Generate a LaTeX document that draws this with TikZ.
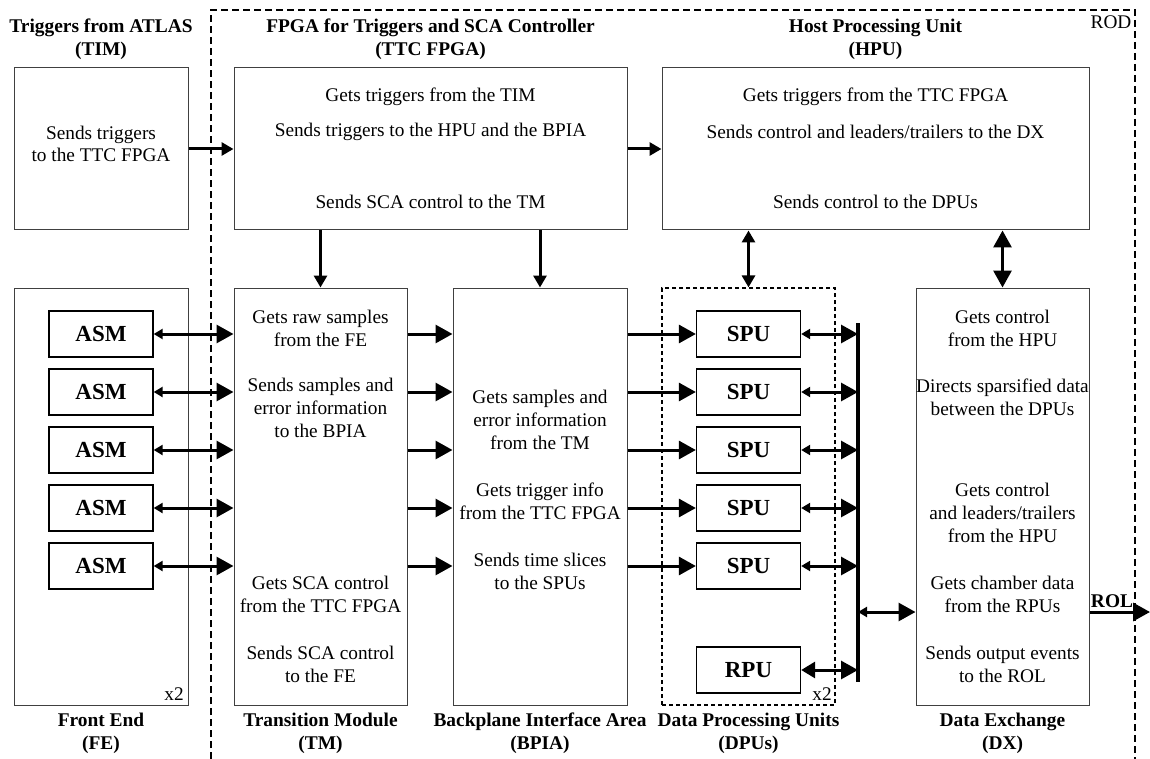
\documentclass[tikz,border=0pt]{standalone}
\usepackage{fontspec}
\setmainfont{Liberation Serif}
\usetikzlibrary{arrows.meta}
\begin{document}
\begin{tikzpicture}[x=1pt,y=-1pt,
  box/.style={draw=black!75,line width=1pt,inner sep=0pt},
  dpubox/.style={draw=black,line width=1.2pt,dash pattern=on 4pt off 3pt,inner sep=0pt},
  unit/.style={draw=black,line width=1.3pt,inner sep=0pt,minimum width=104pt,minimum height=46pt,
    font=\fontsize{23}{27}\selectfont\bfseries},
  txt/.style={align=center,inner sep=0pt,font=\fontsize{19.3}{22.7}\selectfont},
  title/.style={align=center,inner sep=0pt,font=\fontsize{19.4}{22.7}\selectfont\bfseries},
  link/.style={line width=3pt},
  Big/.tip={Triangle[length=17pt,width=18pt]},
  Mid/.tip={Triangle[length=12pt,width=13pt]},
  Wide/.tip={Triangle[length=14pt,width=16pt]},
  Sml/.tip={Triangle[length=9pt,width=10pt]}]
\useasboundingbox (0,0) rectangle (1150,759);

% ROD enclosure
\draw[line width=1.5pt,dash pattern=on 7pt off 4pt] (211,759) -- (211,10) -- (1135,10) -- (1135,759);
\node[txt] (rod) at (1111,22) {ROD};

% top row
\node[box,minimum width=174pt,minimum height=162pt] (tim) at (101,149) {};
\node[box,minimum width=393pt,minimum height=162pt] (ttc) at (430.5,149) {};
\node[box,minimum width=427pt,minimum height=162pt] (hpu) at (875.5,149) {};

\node[title] (timT) at (101,39) {Triggers from ATLAS\\(TIM)};
\node[title] (ttcT) at (430.5,39) {FPGA for Triggers and SCA Controller\\(TTC FPGA)};
\node[title] (hpuT) at (875.5,39) {Host Processing Unit\\(HPU)};

\node[txt] (tim1) at (101,144) {Sends triggers\\to the TTC FPGA};
\node[txt] (ttc1) at (430.5,97) {Gets triggers from the TIM};
\node[txt] (ttc2) at (430.5,132) {Sends triggers to the HPU and the BPIA};
\node[txt] (ttc3) at (430.5,202) {Sends SCA control to the TM};
\node[txt] (hpu1) at (875.5,97) {Gets triggers from the TTC FPGA};
\node[txt] (hpu2) at (875.5,132) {Sends control and leaders/trailers to the DX};
\node[txt] (hpu3) at (875.5,202) {Sends control to the DPUs};

% bottom row
\node[box,minimum width=174pt,minimum height=417pt] (fe) at (101,496.5) {};
\node[box,minimum width=173pt,minimum height=417pt] (tm) at (320.5,496.5) {};
\node[box,minimum width=174pt,minimum height=417pt] (bpia) at (540,496.5) {};
\node[dpubox,minimum width=173pt,minimum height=417pt] (dpu) at (748.5,496.5) {};
\node[box,minimum width=173pt,minimum height=417pt] (dx) at (1002.5,496.5) {};

\foreach \i/\y in {1/334,2/392,3/450,4/508,5/566}{
  \node[unit] (asm\i) at (101,\y) {ASM};
  \node[unit] (spu\i) at (748.5,\y) {SPU};
}
\node[unit] (rpu) at (748.5,670) {RPU};

\node[txt] (fex) at (174,694) {x2};
\node[txt] (dpux) at (822,694) {x2};

\node[txt] (tm1) at (320.5,328.5) {Gets raw samples\\from the FE};
\node[txt] (tm2) at (320.5,408) {Sends samples and\\error information\\to the BPIA};
\node[txt] (tm3) at (320.5,594.5) {Gets SCA control\\from the TTC FPGA};
\node[txt] (tm4) at (320.5,664.5) {Sends SCA control\\to the FE};

\node[txt] (bp1) at (540,420) {Gets samples and\\error information\\from the TM};
\node[txt] (bp2) at (540,501.5) {Gets trigger info\\from the TTC FPGA};
\node[txt] (bp3) at (540,571.5) {Sends time slices\\to the SPUs};

\node[txt] (dx1) at (1002.5,328.5) {Gets control\\from the HPU};
\node[txt] (dx2) at (1002.5,397) {Directs sparsified data\\between the DPUs};
\node[txt] (dx3) at (1002.5,513) {Gets control\\and leaders/trailers\\from the HPU};
\node[txt] (dx4) at (1002.5,594.5) {Gets chamber data\\from the RPUs};
\node[txt] (dx5) at (1002.5,664.5) {Sends output events\\to the ROL};

\node[title] (feT) at (101,733.5) {Front End\\(FE)};
\node[title] (tmT) at (320.5,733.5) {Transition Module\\(TM)};
\node[title] (bpT) at (540,733.5) {Backplane Interface Area\\(BPIA)};
\node[title] (dpT) at (748.5,733.5) {Data Processing Units\\(DPUs)};
\node[title] (dxT) at (1002.5,733.5) {Data Exchange\\(DX)};

% data bus between the DPUs and the DX
\coordinate (bustop) at (858,323);
\coordinate (busbot) at (858,682);
\coordinate (busdx) at (858,612);
\coordinate (rol) at (1150,612);
\draw[line width=4pt] (bustop) -- (busbot);

% connectors
\draw[link,-Mid] (tim.east |- 0,149) -- (ttc.west |- 0,149);
\draw[link,-Mid] (ttc.east |- 0,149) -- (hpu.west |- 0,149);
\draw[link,-Mid] (ttc.south -| tm.north) -- (tm.north);
\draw[link,-Mid] (ttc.south -| bpia.north) -- (bpia.north);
\draw[link,Mid-Mid] (hpu.south -| dpu.north) -- (dpu.north);
\draw[link,Big-Big] (hpu.south -| dx.north) -- (dx.north);

\foreach \i in {1,...,5}{
  \draw[link,Sml-Big] (asm\i.east) -- (asm\i.east -| tm.west);
  \draw[link,-Big] (asm\i.east -| tm.east) -- (asm\i.east -| bpia.west);
  \draw[link,-Big] (spu\i.west -| bpia.east) -- (spu\i.west);
  \draw[link,Sml-Big] (spu\i.east) -- (spu\i.east -| bustop);
}
\draw[link,Wide-Big] (rpu.east) -- (rpu.east -| bustop);
\draw[link,Sml-Big] (busdx) -- (busdx -| dx.west);
\draw[link,-Big] (busdx -| dx.east) -- (rol);
\node[title] (rolT) at (1112,601) {ROL};

\end{tikzpicture}
\end{document}
